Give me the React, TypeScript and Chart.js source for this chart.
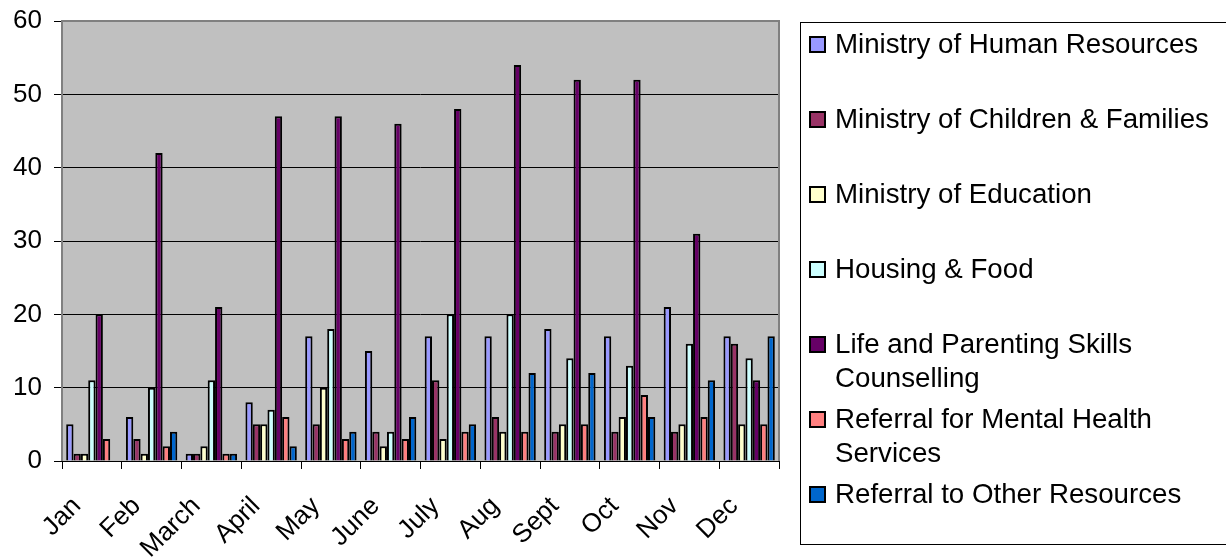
import React, { useEffect, useRef } from "react";
import { Chart, registerables } from "chart.js";

Chart.register(...registerables);

const months = ["Jan", "Feb", "March", "April", "May", "June", "July", "Aug", "Sept", "Oct", "Nov", "Dec"];

const humanResources = [5, 6, 1, 8, 17, 15, 17, 17, 18, 17, 21, 17];
const childrenFamilies = [1, 3, 1, 5, 5, 4, 11, 6, 4, 4, 4, 16];
const education = [1, 1, 2, 5, 10, 2, 3, 4, 5, 6, 5, 5];
const housingFood = [11, 10, 11, 7, 18, 4, 20, 20, 14, 13, 16, 14];
const lifeParenting = [20, 42, 21, 47, 47, 46, 48, 54, 52, 52, 31, 11];
const mentalHealth = [3, 2, 1, 6, 3, 3, 4, 4, 5, 9, 6, 5];
const otherResources = [null, 4, 1, 2, 4, 6, 5, 12, 12, 6, 11, 17];

const seriesLabels = [
  "Ministry of Human Resources",
  "Ministry of Children & Families",
  "Ministry of Education",
  "Housing & Food",
  "Life and Parenting Skills Counselling",
  "Referral for Mental Health Services",
  "Referral to Other Resources",
];
const seriesColors = ["#9999FF", "#993366", "#FFFFCC", "#CCFFFF", "#660066", "#FF8080", "#0066CC"];
const yTicks = [0, 10, 20, 30, 40, 50, 60];

const FONT = "'Liberation Sans', Arial, sans-serif";

const plotBgPlugin = {
  id: "plotBg",
  beforeDraw(chart: any) {
    const { ctx, chartArea: a } = chart;
    ctx.save();
    ctx.fillStyle = "#C0C0C0";
    ctx.fillRect(a.left, a.top, a.right - a.left, a.bottom - a.top);
    ctx.restore();
  },
  afterDatasetsDraw(chart: any) {
    const { ctx, chartArea: a } = chart;
    ctx.save();
    ctx.strokeStyle = "#808080";
    ctx.lineWidth = 2;
    ctx.beginPath();
    ctx.moveTo(a.left, a.bottom);
    ctx.lineTo(a.left, a.top);
    ctx.lineTo(a.right, a.top);
    ctx.lineTo(a.right, a.bottom);
    ctx.stroke();
    ctx.strokeStyle = "#000";
    ctx.lineWidth = 1;
    const y0 = Math.round(chart.scales.y.getPixelForValue(0)) + 0.5;
    ctx.beginPath();
    ctx.moveTo(a.left - 8, y0);
    ctx.lineTo(a.right, y0);
    ctx.stroke();
    ctx.restore();
  },
};

function wrapText(ctx: CanvasRenderingContext2D, text: string, maxWidth: number): string[] {
  const words = text.split(" ");
  const lines: string[] = [];
  let cur = "";
  for (const w of words) {
    const t = cur ? cur + " " + w : w;
    if (ctx.measureText(t).width > maxWidth && cur) {
      lines.push(cur);
      cur = w;
    } else cur = t;
  }
  if (cur) lines.push(cur);
  return lines;
}

const legendPlugin = {
  id: "boxLegend",
  afterDraw(chart: any) {
    const ctx: CanvasRenderingContext2D = chart.ctx;
    ctx.save();
    ctx.strokeStyle = "#000";
    ctx.lineWidth = 1;
    ctx.strokeRect(800.5, 22.5, 440, 522);
    ctx.font = `27.7px ${FONT}`;
    ctx.textBaseline = "middle";
    ctx.textAlign = "left";
    chart.data.datasets.forEach((ds: any, i: number) => {
      const y = 44 + 75 * i;
      ctx.fillStyle = ds.backgroundColor;
      ctx.fillRect(809, y - 8, 17, 17);
      ctx.strokeStyle = "#000";
      ctx.lineWidth = 2;
      ctx.strokeRect(810, y - 7, 15, 15);
      ctx.fillStyle = "#000";
      const lines = wrapText(ctx, ds.label, 405);
      lines.forEach((ln, k) => ctx.fillText(ln, 835, y + 1 + k * 34));
    });
    ctx.restore();
  },
};

export default function App() {
  const ref = useRef<HTMLCanvasElement>(null);
  useEffect(() => {
    const seriesValues = [humanResources, childrenFamilies, education, housingFood, lifeParenting, mentalHealth, otherResources];
    const chart = new Chart(ref.current as HTMLCanvasElement, {
      type: "bar",
      data: {
        labels: months,
        datasets: seriesValues.map((vals, i) => ({
          label: seriesLabels[i],
          data: vals as any,
          backgroundColor: seriesColors[i],
          borderColor: "#000",
          borderWidth: 2,
          barPercentage: 1,
          categoryPercentage: 0.86,
        })),
      },
      options: {
        animation: false,
        responsive: false,
        devicePixelRatio: 1,
        layout: { padding: { left: 0, top: 21, right: 447, bottom: 0 } },
        plugins: { legend: { display: false }, tooltip: { enabled: false } },
        scales: {
          x: {
            offset: true,
            grid: { display: true, drawOnChartArea: false, drawTicks: true, tickLength: 8, color: "#000", offset: true },
            border: { display: false },
            ticks: {
              autoSkip: false,
              minRotation: 45,
              maxRotation: 45,
              color: "#000",
              font: { family: FONT, size: 26 },
              padding: 22,
              labelOffset: -15,
            },
            afterFit: (s: any) => {
              s.height = 97;
            },
          },
          y: {
            min: 0,
            max: 60,
            afterBuildTicks: (s: any) => {
              s.ticks = yTicks.map((v) => ({ value: v }));
            },
            grid: {
              color: (c: any) => (c.tick && c.tick.value === 60 ? "rgba(0,0,0,0)" : "#000"),
              tickColor: "#000",
              tickLength: 8,
              lineWidth: 1,
            },
            border: { display: false },
            ticks: { color: "#000", font: { family: FONT, size: 26 }, padding: 12 },
            afterFit: (s: any) => {
              s.width = 62;
              s.paddingTop = 0;
              s.paddingBottom = 0;
            },
          },
        },
      },
      plugins: [plotBgPlugin, legendPlugin],
    });
    return () => chart.destroy();
  }, []);
  return (
    <div style={{ position: "absolute", left: 0, top: 0, width: 1226, height: 558, background: "#fff" }}>
      <canvas ref={ref} width={1226} height={558} />
    </div>
  );
}
